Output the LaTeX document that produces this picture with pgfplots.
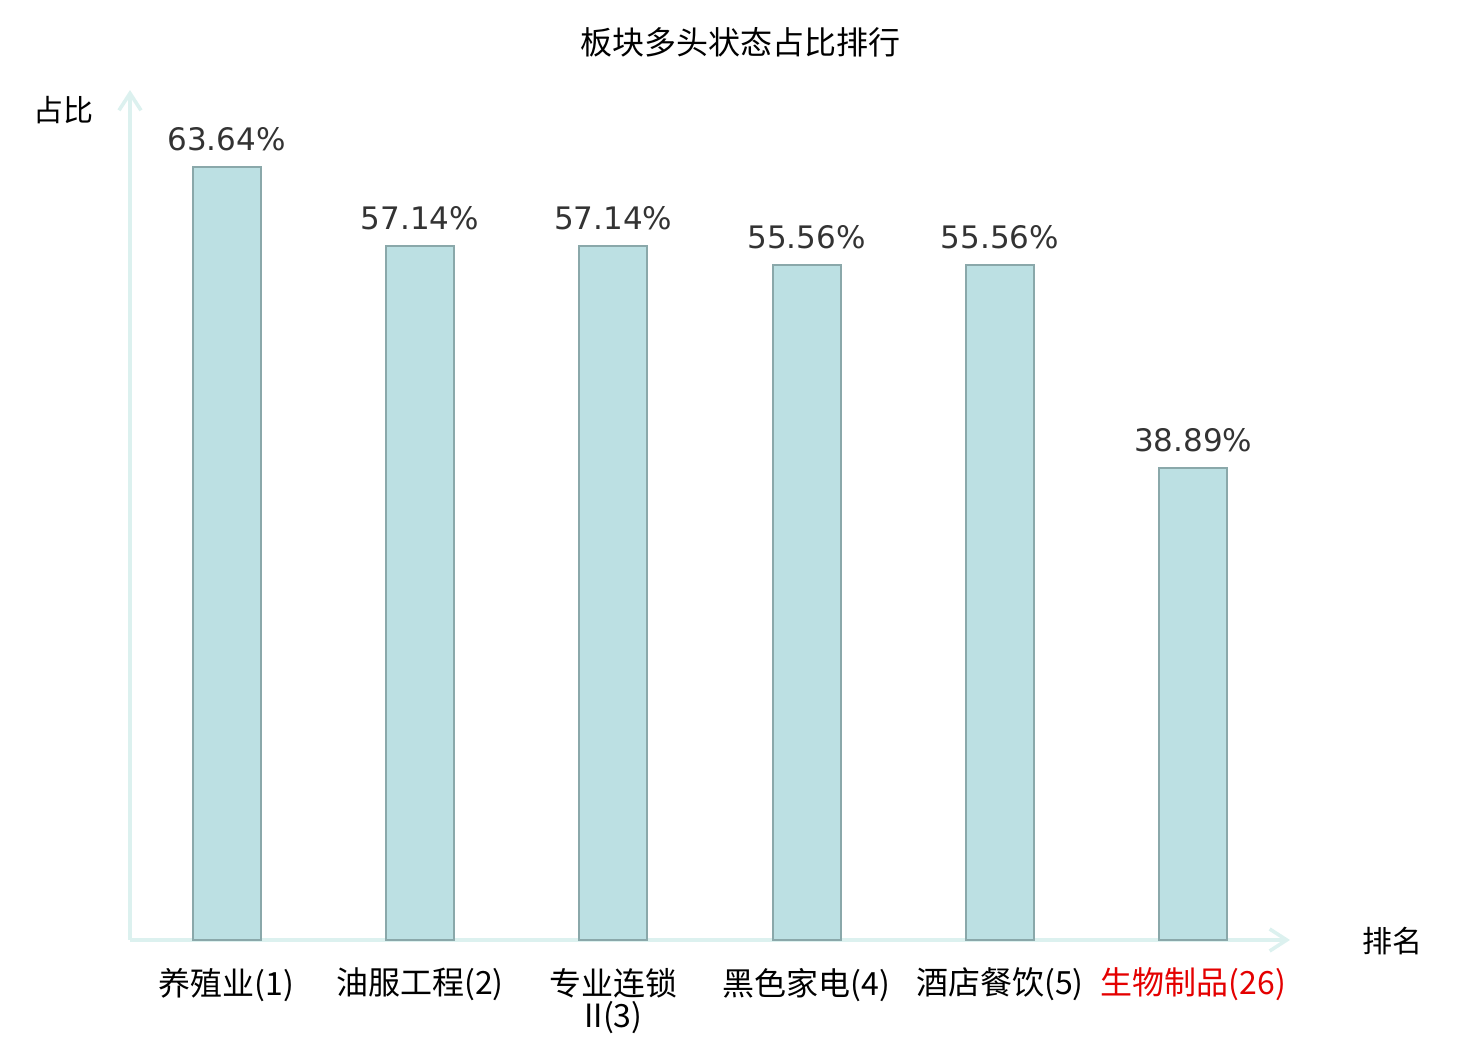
\documentclass[border=0pt]{standalone}
\usepackage{pgfplots}
\pgfplotsset{compat=1.18}
\usetikzlibrary{arrows.meta}
\usepackage{fontspec}
\setmainfont{DejaVu Sans}
\newfontfamily\cjk{Noto Sans CJK SC}
\definecolor{barfill}{RGB}{188,224,227}
\definecolor{bardraw}{RGB}{138,168,170}
\definecolor{axline}{RGB}{220,241,239}
\definecolor{lbl}{RGB}{51,51,51}
\definecolor{hl}{RGB}{228,0,0}
\begin{document}
\begin{tikzpicture}
\path[use as bounding box] (0,0) rectangle (740pt,520pt);
\begin{axis}[
  at={(65pt,50pt)}, anchor=south west,
  scale only axis, width=580pt, height=425pt,
  xmin=-0.5, xmax=5.5, ymin=0, ymax=70,
  axis lines=left,
  axis line style={draw=axline, line width=1.8pt},
  x axis line style={-{Straight Barb[length=8.5pt,width=11pt,line width=1.8pt]}},
  y axis line style={-{Straight Barb[length=8.5pt,width=11pt,line width=1.8pt]}},
  ytick=\empty,
  xtick={0,1,2,3,4,5},
  xticklabels={养殖业(1),油服工程(2),{专业连锁\\II(3)},黑色家电(4),酒店餐饮(5),{\color{hl}生物制品(26)}},
  xticklabel style={font=\cjk\fontsize{16}{16}\selectfont, align=center, yshift=-10.5pt, text=black},
  major tick length=0pt,
  ybar, bar width=0.352,
  clip=false,
  point meta=explicit symbolic,
  nodes near coords={\pgfplotspointmeta\%},
  every node near coord/.append style={font=\fontsize{15.5}{15.5}\selectfont, text=lbl, anchor=south, inner ysep=0pt, yshift=7.5pt},
]
\addplot[fill=barfill, draw=bardraw, line width=1pt] coordinates {
  (0,63.64) [63.64]
  (1,57.14) [57.14]
  (2,57.14) [57.14]
  (3,55.56) [55.56]
  (4,55.56) [55.56]
  (5,38.89) [38.89]
};
\end{axis}
\node[font=\cjk\fontsize{16}{16}\selectfont] at (370pt,499pt) {板块多头状态占比排行};
\node[font=\cjk\fontsize{15}{15}\selectfont] at (31.5pt,465pt) {占比};
\node[font=\cjk\fontsize{15}{15}\selectfont] at (696pt,49.5pt) {排名};
\end{tikzpicture}
\end{document}
